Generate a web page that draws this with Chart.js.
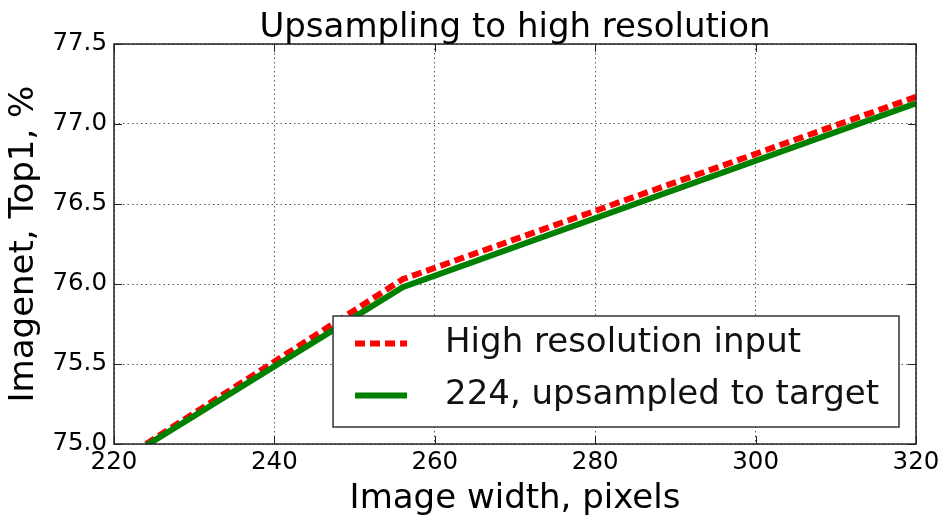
<!DOCTYPE html>
<html>
<head>
<meta charset="utf-8">
<script src="https://cdn.jsdelivr.net/npm/chart.js@4"></script>
<style>
  body { margin: 0; background: #fff; }
  canvas { display: block; }
</style>
</head>
<body>
<canvas id="chart" width="951" height="527"></canvas>
<script>
// image widths where the curves bend
const widths = [224, 256, 320];
const highRes = [75.0, 76.03, 77.17];
const upsampled = [74.99, 75.98, 77.13];

const xTicks = [220, 240, 260, 280, 300, 320];
const yTicks = [75.0, 75.5, 76.0, 76.5, 77.0, 77.5];

const seriesLabels = ['High resolution input', '224, upsampled to target'];
const chartTitle = 'Upsampling to high resolution';

Chart.defaults.font.family = '"DejaVu Sans", sans-serif';
Chart.defaults.color = '#000';

// matplotlib-ish frame with inward ticks, title centred over the axes
const framePlugin = {
  id: 'frame',
  afterDatasetsDraw(chart) {
    const ctx = chart.ctx;
    const a = chart.chartArea;
    const xs = chart.scales.x, ys = chart.scales.y;
    ctx.save();
    ctx.strokeStyle = '#222';
    ctx.lineWidth = 1.5;
    ctx.strokeRect(a.left, a.top, a.right - a.left, a.bottom - a.top);
    ctx.lineWidth = 1;
    ctx.beginPath();
    xTicks.forEach(v => {
      const px = Math.round(xs.getPixelForValue(v)) + 0.5;
      ctx.moveTo(px, a.bottom); ctx.lineTo(px, a.bottom - 8);
      ctx.moveTo(px, a.top); ctx.lineTo(px, a.top + 8);
    });
    yTicks.forEach(v => {
      const py = Math.round(ys.getPixelForValue(v)) + 0.5;
      ctx.moveTo(a.left, py); ctx.lineTo(a.left + 8, py);
      ctx.moveTo(a.right, py); ctx.lineTo(a.right - 8, py);
    });
    ctx.stroke();

    ctx.font = '34px "DejaVu Sans"';
    ctx.fillStyle = '#000';
    ctx.textAlign = 'center';
    ctx.textBaseline = 'alphabetic';
    ctx.fillText(chartTitle, (a.left + a.right) / 2, a.top - 7);
    ctx.restore();
  }
};

// legend box in the lower right, inside the axes
const boxLegend = {
  id: 'boxLegend',
  afterDraw(chart) {
    const ctx = chart.ctx;
    const a = chart.chartArea;
    const sets = chart.data.datasets;
    ctx.save();
    ctx.font = '34px "DejaVu Sans"';
    const textW = Math.max(...seriesLabels.map(t => ctx.measureText(t).width));
    const w = 112 + textW + 20, h = 111;
    const right = a.right - 17, bottom = a.bottom - 17;
    const left = right - w, top = bottom - h;
    ctx.fillStyle = '#fff';
    ctx.fillRect(left, top, w, h);
    ctx.strokeStyle = '#333';
    ctx.lineWidth = 1.5;
    ctx.strokeRect(left, top, w, h);
    seriesLabels.forEach((lab, i) => {
      const ds = sets.find(d => d.label === lab);
      const y = top + 27.5 + i * 52;
      ctx.beginPath();
      ctx.setLineDash(ds.borderDash || []);
      ctx.strokeStyle = ds.borderColor;
      ctx.lineWidth = ds.borderWidth;
      ctx.lineCap = 'butt';
      ctx.moveTo(left + 22, y);
      ctx.lineTo(left + 74, y);
      ctx.stroke();
      ctx.setLineDash([]);
      ctx.fillStyle = '#111';
      ctx.textBaseline = 'middle';
      ctx.textAlign = 'left';
      ctx.fillText(lab, left + 112, y);
    });
    ctx.restore();
  }
};

new Chart(document.getElementById('chart'), {
  type: 'line',
  data: {
    datasets: [
      {
        label: seriesLabels[0],
        data: widths.map((w, i) => ({ x: w, y: highRes[i] })),
        borderColor: '#ff0000',
        borderWidth: 6,
        borderDash: [10, 5],
        borderCapStyle: 'butt',
        pointRadius: 0,
        tension: 0,
        fill: false,
        order: 1
      },
      {
        label: seriesLabels[1],
        data: widths.map((w, i) => ({ x: w, y: upsampled[i] })),
        borderColor: '#008000',
        borderWidth: 6,
        pointRadius: 0,
        tension: 0,
        fill: false,
        order: 0
      }
    ]
  },
  options: {
    responsive: false,
    animation: false,
    layout: { padding: { left: 0, right: 35, top: 44, bottom: 0 } },
    plugins: {
      legend: { display: false },
      tooltip: { enabled: false },
      title: { display: false }
    },
    scales: {
      x: {
        type: 'linear',
        min: 220,
        max: 320,
        afterFit: s => { s.height = 83; },
        afterBuildTicks: s => { s.ticks = xTicks.map(v => ({ value: v })); },
        ticks: { font: { size: 24.5 }, color: '#000', padding: 4, maxRotation: 0 },
        grid: { color: '#555', lineWidth: 1, drawTicks: false },
        border: { display: false, dash: [1.5, 3] },
        title: {
          display: true,
          text: 'Image width, pixels',
          color: '#000',
          font: { size: 34, lineHeight: 1.2 },
          padding: { top: 0, bottom: 7 }
        }
      },
      y: {
        min: 75.0,
        max: 77.5,
        afterFit: s => { s.width = 114; },
        afterBuildTicks: s => { s.ticks = yTicks.map(v => ({ value: v })); },
        ticks: { font: { size: 24.5 }, color: '#000', padding: 7, callback: v => v.toFixed(1) },
        grid: { color: '#555', lineWidth: 1, drawTicks: false },
        border: { display: false, dash: [1.5, 3] },
        title: {
          display: true,
          text: 'Imagenet, Top1, %',
          color: '#000',
          font: { size: 34, lineHeight: 1.2 },
          padding: { top: 4, bottom: 0 }
        }
      }
    }
  },
  plugins: [framePlugin, boxLegend]
});
</script>
</body>
</html>
